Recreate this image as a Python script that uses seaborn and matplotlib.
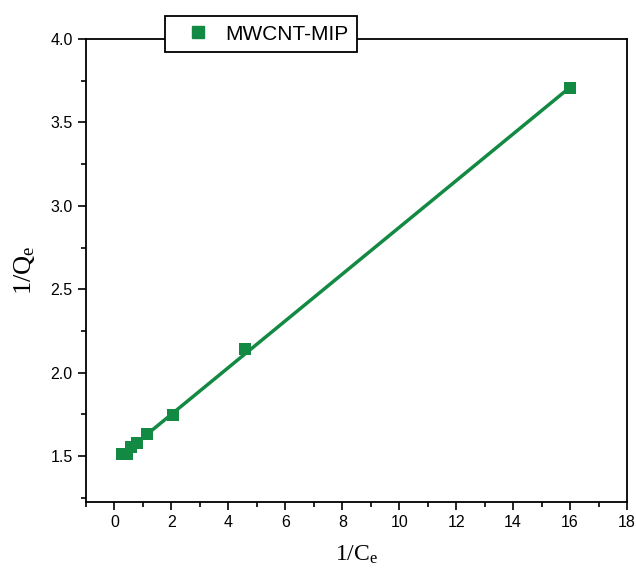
import numpy as np
import pandas as pd
import matplotlib
matplotlib.use("Agg")
import matplotlib.pyplot as plt
import seaborn as sns
from matplotlib.ticker import MultipleLocator

inv_ce = [0.28, 0.45, 0.57, 0.78, 1.13, 2.05, 4.6, 16.0]
inv_qe = [1.51, 1.515, 1.555, 1.58, 1.635, 1.745, 2.14, 3.705]
series_name = "MWCNT-MIP"

df = pd.DataFrame({"x": inv_ce, "y": inv_qe})
green = "#138a43"

sns.set_style("ticks")
plt.rcParams["font.family"] = ["Liberation Sans", "DejaVu Sans"]
plt.rcParams["text.color"] = "black"
plt.rcParams["axes.labelcolor"] = "black"
plt.rcParams["xtick.color"] = "black"
plt.rcParams["ytick.color"] = "black"
plt.rcParams["mathtext.fontset"] = "custom"
plt.rcParams["mathtext.rm"] = "Liberation Serif"
plt.rcParams["mathtext.it"] = "Liberation Serif"

fig = plt.figure(figsize=(6.36, 5.69), dpi=100)
ax = fig.add_axes([86/636, 1-502/569, (627-86)/636, (502-39)/569])

sns.regplot(data=df, x="x", y="y", ci=None, ax=ax, color=green, marker="s",
            scatter_kws=dict(s=72, linewidths=0, alpha=1, zorder=3),
            line_kws=dict(lw=2.5, zorder=2), truncate=True)

ax.set_xlim(-1, 18)
ax.set_ylim(1.225, 4.0)
ax.xaxis.set_major_locator(MultipleLocator(2))
ax.xaxis.set_minor_locator(MultipleLocator(1))
ax.yaxis.set_major_locator(MultipleLocator(0.5))
ax.yaxis.set_minor_locator(MultipleLocator(0.25))
ax.tick_params(which="major", direction="out", length=6, width=1.2, labelsize=11.5,
               color="black", labelcolor="black")
ax.tick_params(which="minor", direction="out", length=3.5, width=1.2, color="black")
ax.set_xticks([0, 2, 4, 6, 8, 10, 12, 14, 16, 18])
for s in ax.spines.values():
    s.set_visible(True)
    s.set_linewidth(1.3)
    s.set_color("black")

ax.set_xlabel("1/C$_\\mathrm{e}$", family="Liberation Serif", fontsize=17, labelpad=10,
              color="black")
ax.set_ylabel("1/Q$_\\mathrm{e}$", family="Liberation Serif", fontsize=19, labelpad=10,
              color="black")

handle = plt.Line2D([], [], marker="s", ls="none", markersize=8.5, color=green)
leg = fig.legend(handles=[handle], labels=[series_name],
                 loc="center", bbox_to_anchor=((166+356)/2/636, 1-34/569),
                 fontsize=15, frameon=True, fancybox=False, edgecolor="black",
                 framealpha=1, handletextpad=0.1, borderpad=0.4,
                 handlelength=2.4, borderaxespad=0)
for t in leg.get_texts():
    t.set_color("black")
leg.get_frame().set_linewidth(1.3)
leg.set_zorder(10)

fig.savefig("out.png", dpi=100)
